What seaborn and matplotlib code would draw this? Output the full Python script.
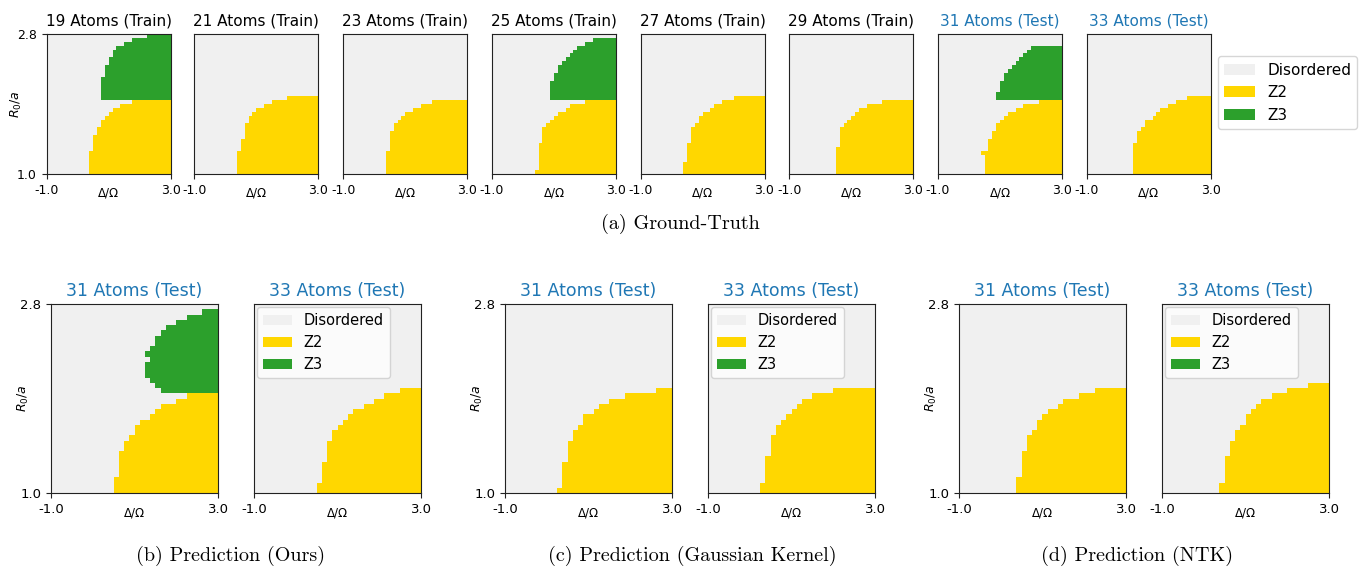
import matplotlib.pyplot as plt
import numpy as np
import seaborn as sns
from matplotlib.colors import ListedColormap
from matplotlib.patches import Patch

# grid of the phase diagrams (Delta/Omega across, R0/a up)
NX, NY = 32, 36

phase_names = ["Disordered", "Z2", "Z3"]
phase_colors = ["#f0f0f0", "#ffd700", "#2ca02c"]

# Z2 / Z3: column where the phase starts, one value per row from the bottom
# Z3 rows start right above the Z2 rows

# ground truth
gt_atoms = [19, 21, 23, 25, 27, 29, 31, 33]
gt_split = ["Train", "Train", "Train", "Train", "Train", "Train", "Test", "Test"]

gt19_z2 = [11, 11, 11, 11, 11, 11, 12, 12, 12, 12, 13, 13, 14, 14, 15, 16, 17, 19, 22]
gt19_z3 = [14, 14, 14, 14, 14, 14, 15, 15, 15, 16, 16, 17, 17, 18, 20, 22, 26]
gt21_z2 = [11, 11, 11, 11, 11, 11, 12, 12, 12, 13, 13, 13, 13, 14, 14, 15, 16, 18, 20, 24]
gt23_z2 = [11, 11, 11, 11, 11, 11, 12, 12, 12, 12, 12, 13, 13, 14, 15, 16, 18, 20, 23]
gt25_z2 = [11, 12, 12, 12, 12, 12, 12, 12, 13, 13, 13, 13, 14, 15, 16, 17, 19, 20, 24]
gt25_z3 = [15, 15, 15, 15, 15, 16, 16, 17, 17, 18, 19, 20, 21, 22, 24, 26]
gt27_z2 = [11, 11, 11, 12, 12, 12, 12, 12, 13, 13, 13, 13, 14, 15, 15, 16, 18, 19, 21, 24]
gt29_z2 = [12, 12, 12, 12, 12, 12, 12, 13, 13, 13, 13, 13, 14, 15, 16, 17, 18, 20, 24]
gt31_z2 = [12, 12, 12, 12, 12, 11, 13, 13, 13, 14, 14, 15, 15, 16, 17, 18, 20, 22, 26]
gt31_z3 = [15, 15, 16, 16, 16, 17, 17, 18, 19, 20, 21, 22, 23, 24]
gt33_z2 = [12, 12, 12, 12, 12, 12, 12, 12, 13, 13, 13, 14, 15, 15, 17, 18, 19, 21, 23, 26]

gt_z2 = [gt19_z2, gt21_z2, gt23_z2, gt25_z2, gt27_z2, gt29_z2, gt31_z2, gt33_z2]
gt_z3 = [gt19_z3, [], [], gt25_z3, [], [], gt31_z3, []]

# predictions on the test sizes
pred_atoms = [31, 33]
ours31_z2 = [12, 12, 12, 13, 13, 13, 13, 13, 14, 14, 15, 16, 16, 17, 19, 20, 21, 24, 26]
ours31_z3 = [21, 20, 19, 18, 18, 18, 19, 18, 19, 20, 20, 21, 22, 24, 26, 29]
ours33_z2 = [12, 12, 13, 13, 13, 13, 14, 14, 14, 14, 15, 15, 16, 17, 18, 19, 21, 23, 25, 28]
gauss31_z2 = [10, 11, 11, 11, 11, 11, 12, 12, 12, 12, 13, 13, 14, 15, 15, 17, 18, 20, 23, 29]
gauss33_z2 = [10, 10, 11, 11, 11, 11, 11, 12, 12, 12, 12, 13, 13, 14, 15, 16, 17, 18, 20, 24]
ntk31_z2 = [11, 11, 11, 12, 12, 12, 12, 12, 13, 13, 13, 14, 15, 15, 16, 17, 19, 20, 23, 26]
ntk33_z2 = [11, 11, 12, 12, 12, 12, 12, 13, 13, 13, 14, 14, 15, 16, 16, 17, 18, 19, 21, 24, 28]

pred_groups = [
    ("(b) Prediction (Ours)", [ours31_z2, ours33_z2], [ours31_z3, []]),
    ("(c) Prediction (Gaussian Kernel)", [gauss31_z2, gauss33_z2], [[], []]),
    ("(d) Prediction (NTK)", [ntk31_z2, ntk33_z2], [[], []]),
]


def phase_grid(z2, z3):
    grid = np.zeros((NY, NX))
    for r, c in enumerate(z2):
        grid[r, c:] = 1
    for r, c in enumerate(z3):
        grid[len(z2) + r, c:] = 2
    return grid[::-1]  # heatmap draws row 0 at the top


cmap = ListedColormap(phase_colors)
W, H = 1370, 569


def panel(rect, z2, z3, title, color, first, title_fs, tick_fs, ylab_off):
    x0, y0, w, h = rect
    ax = fig.add_axes([x0 / W, 1 - (y0 + h) / H, w / W, h / H])
    sns.heatmap(phase_grid(z2, z3), ax=ax, cmap=cmap, vmin=-0.5, vmax=2.5,
                cbar=False, xticklabels=False, yticklabels=False)
    for s in ax.spines.values():
        s.set_visible(True)
        s.set_linewidth(0.8)
        s.set_color("#222222")
    ax.set_xticks([0, NX])
    ax.set_xticklabels(["-1.0", "3.0"], fontsize=tick_fs)
    if first:
        ax.set_yticks([0, NY])
        ax.set_yticklabels(["2.8", "1.0"], fontsize=tick_fs, rotation=0)
        ax.set_ylabel(r"$R_0/a$", fontsize=9)
        ax.yaxis.set_label_coords(-ylab_off / w, 0.5)
    else:
        ax.set_yticks([])
    ax.tick_params(length=3.5, width=0.8, color="#222222")
    ax.set_xlabel("Δ/Ω", fontsize=8.5)
    ax.xaxis.set_label_coords(0.5, -13 / h)
    ax.set_title(title, fontsize=title_fs, color=color, pad=6)
    return ax


fig = plt.figure(figsize=(13.7, 5.69), dpi=100)

handles = [Patch(facecolor=c, label=n) for n, c in zip(phase_names, phase_colors)]

# (a) ground truth row
gt_left = [46.7, 194.3, 343.3, 492, 640.5, 789.3, 938, 1086.7]
for i, (n, sp) in enumerate(zip(gt_atoms, gt_split)):
    col = "black" if sp == "Train" else "#1f77b4"
    ax = panel((gt_left[i], 34, 124, 140), gt_z2[i], gt_z3[i],
               f"{n} Atoms ({sp})", col, i == 0, 11, 9, 23)
    if i == len(gt_atoms) - 1:
        ax.legend(handles=handles, loc="upper left", bbox_to_anchor=(1.06, 0.84),
                  borderaxespad=0, fontsize=11, handlelength=2.0)

fig.text(680 / W, 1 - 224 / H, "(a) Ground-Truth", fontsize=14.5,
         family="cmr10", ha="center", va="center")

# (b)-(d) prediction rows
pred_left = [[51, 254], [505, 708], [959, 1162]]
cap_x = [231, 692, 1137]
for g, (cap, z2s, z3s) in enumerate(pred_groups):
    for j in range(2):
        ax = panel((pred_left[g][j], 304, 167, 189), z2s[j], z3s[j],
                   f"{pred_atoms[j]} Atoms (Test)", "#1f77b4", j == 0, 12.5, 9.5, 20)
        if j == 1:
            ax.legend(handles=handles, loc="upper left", borderaxespad=0.2,
                      fontsize=10.5, handlelength=2.0)
    fig.text(cap_x[g] / W, 1 - 556 / H, cap, fontsize=14.5, family="cmr10",
             ha="center", va="center")

fig.savefig("out.png", dpi=100)
